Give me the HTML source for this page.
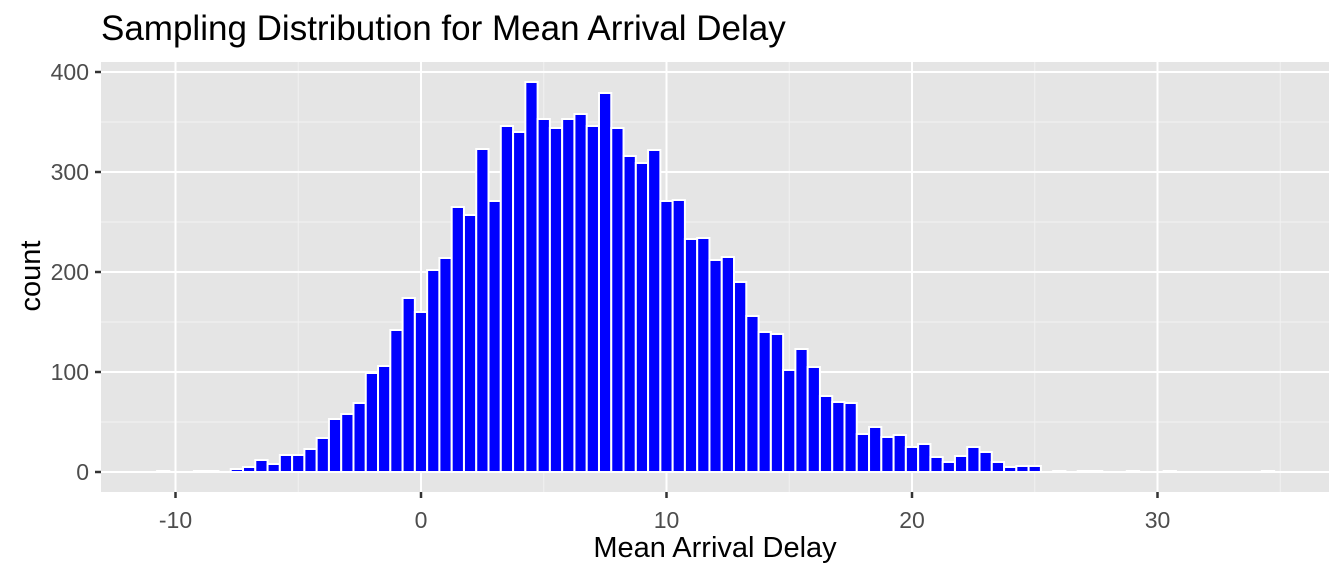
<!DOCTYPE html>
<html><head><meta charset="utf-8"><style>
body{margin:0;background:#fff;}
svg{display:block;font-family:"Liberation Sans",Arial,sans-serif;}
</style></head><body>
<svg id="chart" width="1344" height="576">
<text x="101" y="40" font-size="35" fill="#000">Sampling Distribution for Mean Arrival Delay</text>
<rect x="101" y="62" width="1228" height="430" fill="#e5e5e5"/>
<g id="grid"></g>
<g id="bars"></g>
<g id="axes"></g>
<text x="715" y="557" font-size="29" text-anchor="middle" fill="#000">Mean Arrival Delay</text>
<text transform="translate(40,276) rotate(-90)" font-size="29" text-anchor="middle" fill="#000">count</text>
</svg>
<script>
const binCenters = [-10.5,-9,-8.5,-7.5,-7,-6.5,-6,-5.5,-5,-4.5,-4,-3.5,-3,-2.5,-2,-1.5,-1,-0.5,0,0.5,1,1.5,2,2.5,3,3.5,4,4.5,5,5.5,6,6.5,7,7.5,8,8.5,9,9.5,10,10.5,11,11.5,12,12.5,13,13.5,14,14.5,15,15.5,16,16.5,17,17.5,18,18.5,19,19.5,20,20.5,21,21.5,22,22.5,23,23.5,24,24.5,25,26,27,27.5,29,30.5,34.5];
const counts = [1,1,1,3,5,12,8,17,17,23,34,53,58,69,99,106,142,174,160,202,214,265,257,323,271,346,340,390,353,344,353,358,346,379,344,316,309,322,271,272,233,234,212,215,190,156,140,138,102,123,105,76,70,69,38,45,35,37,25,28,15,10,16,25,20,10,5,6,6,1,1,1,1,1,1];
const xTicks = [-10,0,10,20,30];
const yTicks = [0,100,200,300,400];
const binWidth = 0.5;
const NS="http://www.w3.org/2000/svg";
const X = v => 421 + 24.55*v;
const Y = v => 472 - v*1.0;
const L=101,R=1329,T=62,B=492;
const grid=document.getElementById('grid'),bars=document.getElementById('bars'),axes=document.getElementById('axes');
function line(p,x1,y1,x2,y2,w,c){const l=document.createElementNS(NS,'line');l.setAttribute('x1',x1);l.setAttribute('y1',y1);l.setAttribute('x2',x2);l.setAttribute('y2',y2);l.setAttribute('stroke',c);l.setAttribute('stroke-width',w);p.appendChild(l);return l;}
[xTicks[0]-5].concat(xTicks.map(t=>t+5)).forEach(v=>{
  if(X(v)<L||X(v)>R) return;
  const m=line(grid,X(v),T,X(v),B,1,'#f2f2f2');
  
  
});
yTicks.map(t=>t+50).forEach(v=>{
  if(Y(v)<T||Y(v)>B) return;
  const m=line(grid,L,Y(v),R,Y(v),1,'#f2f2f2');
  
  
});
xTicks.forEach(t=>{
  const g=line(grid,X(t),T,X(t),B,2,'#fff');
  
  
  const k=line(axes,X(t),B,X(t),B+6,2.5,'#333');
  
  
  const tx=document.createElementNS(NS,'text');tx.setAttribute('x',X(t));tx.setAttribute('y',B+36);tx.setAttribute('font-size','23');tx.setAttribute('fill','#4d4d4d');tx.setAttribute('text-anchor','middle');tx.textContent=t;
  
  
  axes.appendChild(tx);
});
yTicks.forEach(t=>{
  const g=line(grid,L,Y(t),R,Y(t),2,'#fff');
  
  
  const k=line(axes,L-6,Y(t),L,Y(t),2.5,'#333');
  
  
  const tx=document.createElementNS(NS,'text');tx.setAttribute('x',L-12);tx.setAttribute('y',Y(t)+8);tx.setAttribute('font-size','23');tx.setAttribute('fill','#4d4d4d');tx.setAttribute('text-anchor','end');tx.textContent=t;
  
  
  axes.appendChild(tx);
});
binCenters.forEach((c,i)=>{
  const r=document.createElementNS(NS,'rect');
  const x0=X(c-binWidth/2),x1=X(c+binWidth/2);
  r.setAttribute('x',x0);r.setAttribute('width',x1-x0);
  r.setAttribute('y',Y(counts[i]));r.setAttribute('height',Y(0)-Y(counts[i]));
  r.setAttribute('fill','#0000ff');r.setAttribute('stroke','#fff');r.setAttribute('stroke-width','2');
  
  
  bars.appendChild(r);
});
</script>
</body></html>
